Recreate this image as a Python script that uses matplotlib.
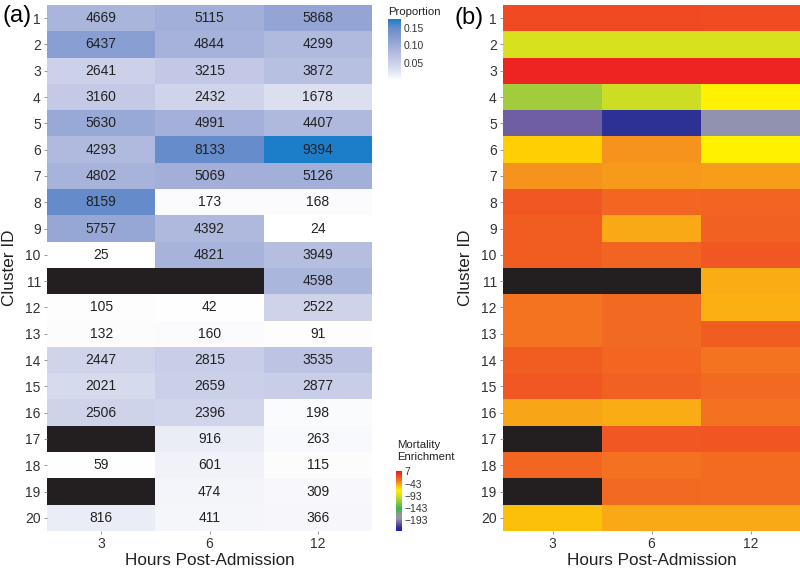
import numpy as np
import matplotlib
matplotlib.use("Agg")
import matplotlib.pyplot as plt
from matplotlib.colors import LinearSegmentedColormap, Normalize

plt.rcParams['font.family'] = ['Liberation Sans', 'DejaVu Sans']

clusters = [str(i) for i in range(1, 21)]
hours = ["3", "6", "12"]
nan = np.nan

# counts per cluster (rows) and hours (cols)
counts_3 = [4669, 6437, 2641, 3160, 5630, 4293, 4802, 8159, 5757, 25,
            nan, 105, 132, 2447, 2021, 2506, nan, 59, nan, 816]
counts_6 = [5115, 4844, 3215, 2432, 4991, 8133, 5069, 173, 4392, 4821,
            nan, 42, 160, 2815, 2659, 2396, 916, 601, 474, 411]
counts_12 = [5868, 4299, 3872, 1678, 4407, 9394, 5126, 168, 24, 3949,
             4598, 2522, 91, 3535, 2877, 198, 263, 115, 309, 366]

# mortality enrichment (estimated from colours)
mort_3 = [-12, -90, 5, -112, -203, -57, -38, -17, -19, -19,
          nan, -28, -28, -19, -17, -44, nan, -23, nan, -52]
mort_6 = [-12, -90, 5, -95, -222, -38, -40, -23, -45, -22,
          nan, -24, -24, -23, -21, -46, -17, -27, -24, -45]
mort_12 = [-13, -90, 5, -70, -185, -70, -41, -22, -21, -17,
           -46, -47, -19, -28, -24, -27, -16, -25, -25, -45]

counts = np.array([counts_3, counts_6, counts_12], dtype=float).T
mort = np.array([mort_3, mort_6, mort_12], dtype=float).T
total = np.nansum(counts, axis=0)
prop = counts / total

W, H = 800, 568
fig = plt.figure(figsize=(8, 5.68), dpi=100)

def px_axes(x0, y0, x1, y1):
    return fig.add_axes([x0 / W, 1 - y1 / H, (x1 - x0) / W, (y1 - y0) / H])

# proportion colormap
pmax = 0.176
pstops = [(0, "#ffffff"), (0.015, "#eceef7"), (0.03, "#dde0f0"), (0.06, "#c3c9e6"),
          (0.09, "#a8b3db"), (0.12, "#8a9fd3"), (0.152, "#678ccb"), (0.176, "#1a7ec8")]
pcmap = LinearSegmentedColormap.from_list("prop", [(v / pmax, c) for v, c in pstops])
pcmap.set_bad("#231f20")
pnorm = Normalize(0, pmax)

# mortality colormap
mmin, mmax = -236, 9
mstops = [(9, "#ee1c24"), (-18, "#f15a22"), (-28, "#f47521"), (-42, "#f8a01b"),
          (-55, "#ffcc05"), (-70, "#fff200"), (-92, "#d4e021"), (-112, "#a3cd3b"),
          (-143, "#3cb84a"), (-168, "#8c9a8c"), (-185, "#9293b0"), (-203, "#725fa3"),
          (-222, "#2e3192"), (-236, "#1a1ad8")]
mstops = sorted(mstops)
mcmap = LinearSegmentedColormap.from_list(
    "mort", [((v - mmin) / (mmax - mmin), c) for v, c in mstops])
mcmap.set_bad("#231f20")
mnorm = Normalize(mmin, mmax)

def style_heat(ax):
    for s in ax.spines.values():
        s.set_visible(False)
    ax.set_xticks(range(3))
    ax.set_xticklabels(hours, fontsize=10, color="#333333")
    ax.set_yticks(range(20))
    ax.set_yticklabels(clusters, fontsize=10, color="#333333")
    ax.tick_params(length=2.5, width=0.6, color="#888888", pad=2)
    ax.set_xlabel("Hours Post-Admission", fontsize=12.3, color="#222222", labelpad=1)
    ax.set_ylabel("Cluster ID", fontsize=12.3, color="#222222", labelpad=6)

# panel (a)
ax1 = px_axes(47, 5, 372, 531)
ax1.imshow(np.ma.masked_invalid(prop), cmap=pcmap, norm=pnorm, aspect="auto",
           interpolation="nearest")
for i in range(20):
    for j in range(3):
        if not np.isnan(counts[i, j]):
            ax1.text(j, i, str(int(counts[i, j])), ha="center", va="center",
                     fontsize=10, color="#222222")
style_heat(ax1)

# panel (b)
ax2 = px_axes(503, 5, 800, 531)
ax2.imshow(np.ma.masked_invalid(mort), cmap=mcmap, norm=mnorm, aspect="auto",
           interpolation="nearest")
style_heat(ax2)

# legends
cax1 = px_axes(388, 19, 401, 80)
grad = np.linspace(0, pmax, 200).reshape(-1, 1)
cax1.imshow(grad, cmap=pcmap, norm=pnorm, aspect="auto", origin="lower",
            extent=[0, 1, 0, pmax])
cax1.set_xticks([])
cax1.yaxis.tick_right()
cax1.set_yticks([0.05, 0.10, 0.15])
cax1.set_yticklabels(["0.05", "0.10", "0.15"], fontsize=7.5, color="#333333")
cax1.tick_params(axis="y", length=0, pad=2)
for s in cax1.spines.values():
    s.set_visible(False)
fig.text(388 / W, 1 - 12 / H, "Proportion", fontsize=8.2, color="#222222",
         ha="left", va="center")

cax2 = px_axes(396, 471, 402, 531)
grad2 = np.linspace(mmin, mmax, 200).reshape(-1, 1)
cax2.imshow(grad2, cmap=mcmap, norm=mnorm, aspect="auto", origin="lower",
            extent=[0, 1, mmin, mmax])
cax2.set_xticks([])
cax2.yaxis.tick_right()
cax2.set_yticks([7, -43, -93, -143, -193])
cax2.set_yticklabels(["7", "\u221243", "\u221293", "\u2212143", "\u2212193"],
                     fontsize=7.5, color="#333333")
cax2.tick_params(axis="y", length=0, pad=2)
for s in cax2.spines.values():
    s.set_visible(False)
fig.text(397 / W, 1 - 451 / H, "Mortality\nEnrichment", fontsize=8.2,
         color="#222222", ha="left", va="center", linespacing=1.25)

fig.text(3 / W, 1 - 16 / H, "(a)", fontsize=17, ha="left", va="center")
fig.text(454 / W, 1 - 18 / H, "(b)", fontsize=17, ha="left", va="center")

fig.savefig("out.png", dpi=100)
